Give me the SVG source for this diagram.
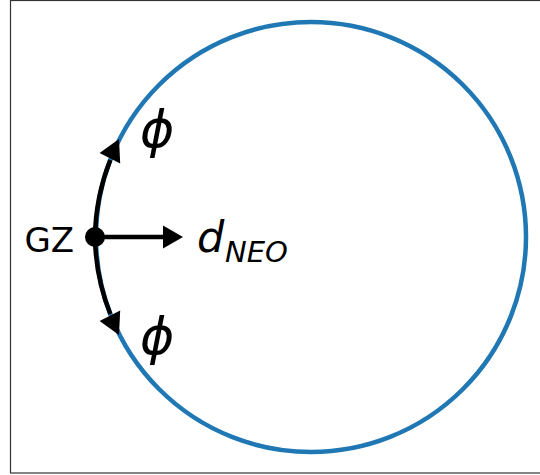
<svg xmlns="http://www.w3.org/2000/svg" width="540" height="475" viewBox="0 0 540 475">
<style>
.lbl{font-family:'DejaVu Sans',sans-serif;fill:#000}
.it{font-style:italic}
.conn{fill:none;stroke:#000;stroke-width:4.5}
.head{fill:#000;stroke:none}
</style>
<rect x="0" y="0" width="540" height="475" fill="#fff"/>
<rect id="frame" x="10.5" y="0.5" width="540" height="472.5" fill="none" stroke="#333" stroke-width="1.2"/>
<g id="orbit">
<circle cx="311" cy="237" r="215" fill="none" stroke="#1f77b4" stroke-width="4.5"/>
</g>
<g id="connectors">
<path class="conn" d="M95,237 A215,215 0 0 1 110.3,160"/>
<polygon class="head" points="119,139 120.2,163.4 99.6,152.9"/>
<path class="conn" d="M95,237 A215,215 0 0 0 110.3,314"/>
<polygon class="head" points="119,335 120.2,310.6 99.6,321.1"/>
<line class="conn" x1="95" y1="237" x2="165" y2="237"/>
<polygon class="head" points="183,237 163,225.5 163,248.5"/>
</g>
<g id="gz">
<circle cx="95" cy="237" r="10" fill="#000"/>
<text class="lbl" x="24.5" y="251.5" font-size="34">GZ</text>
</g>
<g id="dneo">
<text class="lbl it" x="197" y="251.5" font-size="43">d</text>
<text class="lbl it" x="225" y="261.5" font-size="29">NEO</text>
</g>
<g id="phi-top">
<text class="lbl it" x="140" y="147" font-size="52">ϕ</text>
</g>
<g id="phi-bottom">
<text class="lbl it" x="140" y="354" font-size="52">ϕ</text>
</g>
</svg>
